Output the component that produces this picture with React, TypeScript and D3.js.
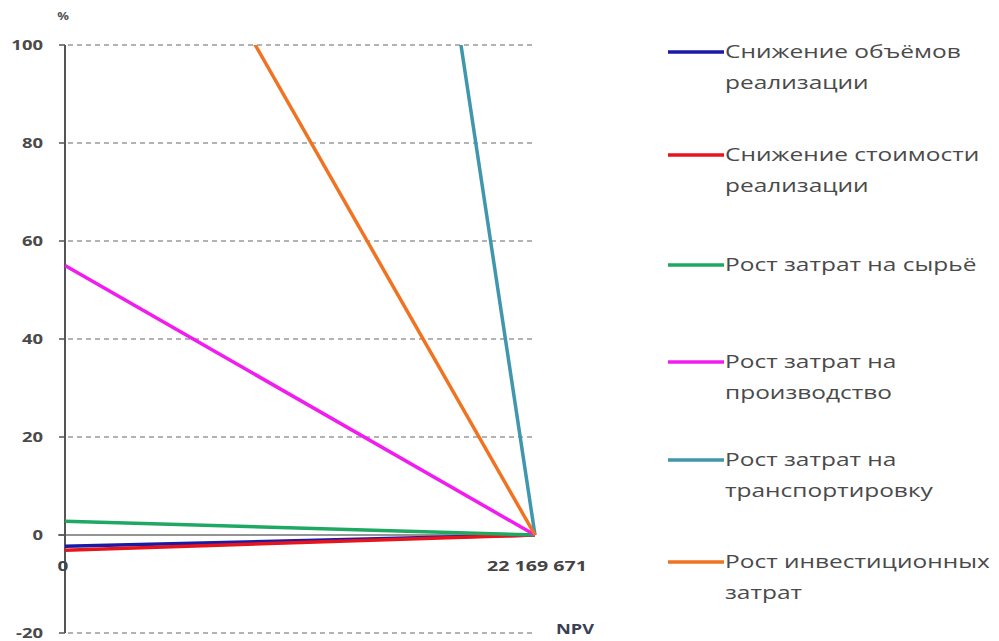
import React from "react";
import * as d3 from "d3";

const NPV_BASE = 22169671;
const seriesNames = [
  ["Снижение объёмов", "реализации"],
  ["Снижение стоимости", "реализации"],
  ["Рост затрат на сырьё"],
  ["Рост затрат на", "производство"],
  ["Рост затрат на", "транспортировку"],
  ["Рост инвестиционных", "затрат"],
];
const seriesColors = ["#1a1aa6", "#e8141c", "#1fa862", "#f01cf0", "#3f96ad", "#f07322"];
// % change at which NPV reaches 0 (line runs from NPV=0 at this % to NPV base at 0 %)
const breakevenPct = [-2.3, -3.1, 2.8, 55, 635, 168];
const yTicks = [-20, 0, 20, 40, 60, 80, 100];
const xTickLabels = ["0", "22 169 671"];
const legendY = [52, 155, 265, 362, 460, 562];

export default function App() {
  const W = 999, H = 641;
  const x = d3.scaleLinear().domain([0, NPV_BASE]).range([65, 535]);
  const y = d3.scaleLinear().domain([-20, 100]).range([633, 45]);
  const line = d3.line<[number, number]>().x(d => x(d[0])).y(d => y(d[1]));
  const drawOrder = [0, 1, 2, 3, 4, 5];
  const font = "'Open Sans', sans-serif";
  const sx = 1.36;
  return (
    <svg width={W} height={H} style={{ position: "absolute", left: 0, top: 0, background: "#fff" }}>
      <defs>
        <clipPath id="plot">
          <rect x={x(0)} y={y(100)} width={x(NPV_BASE) - x(0) + 10} height={y(-20) - y(100)} />
        </clipPath>
      </defs>
      {/* gridlines */}
      {yTicks.filter(t => t !== 0).map(t => (
        <line key={t} x1={x(0) + 3} x2={x(NPV_BASE)} y1={y(t)} y2={y(t)}
          stroke="#9a9a9a" strokeWidth={1.5} strokeDasharray="5,4" />
      ))}
      {/* zero line */}
      <line x1={x(0) - 7} x2={x(NPV_BASE)} y1={y(0)} y2={y(0)} stroke="#707070" strokeWidth={1.5} />
      {/* y axis */}
      <line x1={x(0)} x2={x(0)} y1={y(100)} y2={y(-20)} stroke="#555" strokeWidth={2} />
      {yTicks.map(t => (
        <line key={"tk" + t} x1={x(0) - 6} x2={x(0)} y1={y(t)} y2={y(t)} stroke="#555" strokeWidth={1.5} />
      ))}
      {yTicks.map(t => (
        <text key={"yl" + t} transform={`translate(43,${y(t)}) scale(1.32,1)`} dy="0.35em" textAnchor="end"
          fontFamily={font} fontWeight={700} fontSize={14} fill="#4a4a4a">{t}</text>
      ))}
      <text transform="translate(63,20) scale(1.3,1)" textAnchor="middle" fontFamily={font} fontWeight={700} fontSize={10} fill="#555">%</text>
      {/* x labels */}
      <text transform={`translate(${x(0) - 2},566) scale(1.35,1)`} dy="0.35em" textAnchor="middle" fontFamily={font} fontWeight={700} fontSize={14} fill="#444">{xTickLabels[0]}</text>
      <text transform={`translate(${x(NPV_BASE) + 2},566) scale(1.4,1)`} dy="0.35em" textAnchor="middle" fontFamily={font} fontWeight={700} fontSize={14} fill="#444">{xTickLabels[1]}</text>
      <text transform="translate(575,629) scale(1.3,1)" dy="0.35em" textAnchor="middle" fontFamily={font} fontWeight={700} fontSize={14} fill="#3a3f55">NPV</text>
      {/* series */}
      <g clipPath="url(#plot)">
        {drawOrder.map(i => (
          <path key={i} d={line([[0, breakevenPct[i]], [NPV_BASE, 0]]) || ""}
            fill="none" stroke={seriesColors[i]} strokeWidth={3.5} />
        ))}
      </g>
      {/* legend */}
      {seriesNames.map((lines, i) => (
        <g key={"lg" + i}>
          <line x1={668} x2={724} y1={legendY[i]} y2={legendY[i]} stroke={seriesColors[i]} strokeWidth={3.5} />
          {lines.map((s, j) => (
            <text key={j} transform={`translate(725,${legendY[i] + j * 31}) scale(${sx},1)`} dy="0.35em" fontFamily={font}
              fontSize={18} fill="#4a4a4a">{s}</text>
          ))}
        </g>
      ))}
    </svg>
  );
}
